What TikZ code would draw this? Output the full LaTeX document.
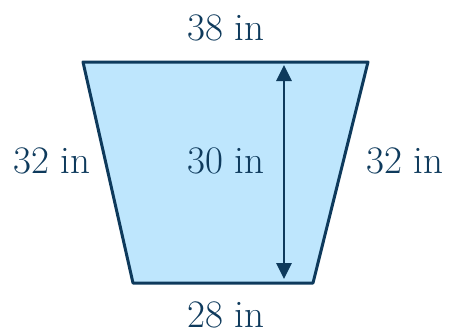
\documentclass[tikz,border=0pt]{standalone}
\usetikzlibrary{arrows.meta, positioning, calc}
\definecolor{trInk}{HTML}{0E3A5C}
\definecolor{trFill}{HTML}{BEE6FD}
\tikzset{
  trap/.style={draw=trInk, fill=trFill, line width=1.5pt, line join=round},
  dim/.style={{Triangle[length=8pt, width=7.5pt]}-{Triangle[length=8pt, width=7.5pt]}, line width=1.4pt, draw=trInk},
  lbl/.style={font=\fontsize{19.5}{22}\selectfont, text=trInk, inner sep=0pt},
}
\begin{document}
\begin{tikzpicture}[x=0.5pt, y=-0.5pt]
  \useasboundingbox (0,0) rectangle (451,334);
  % corners of the trapezoid
  \coordinate (tl) at (83,62);
  \coordinate (tr) at (368,62);
  \coordinate (br) at (313,283);
  \coordinate (bl) at (133,283);
  \draw[trap] (tl) -- (tr) -- (br) -- (bl) -- cycle;

  % height
  \coordinate (htop) at (284,65);
  \coordinate (hbot) at (284,279);
  \draw[dim] (htop) -- (hbot);

  \node[lbl] (top) at (226,28) {38 in};
  \node[lbl] (bot) at (226,315) {28 in};
  \node[lbl] (left) at (52,161) {32 in};
  \node[lbl] (right) at (405,161) {32 in};
  \node[lbl] (hgt) at (226,161) {30 in};
\end{tikzpicture}
\end{document}
